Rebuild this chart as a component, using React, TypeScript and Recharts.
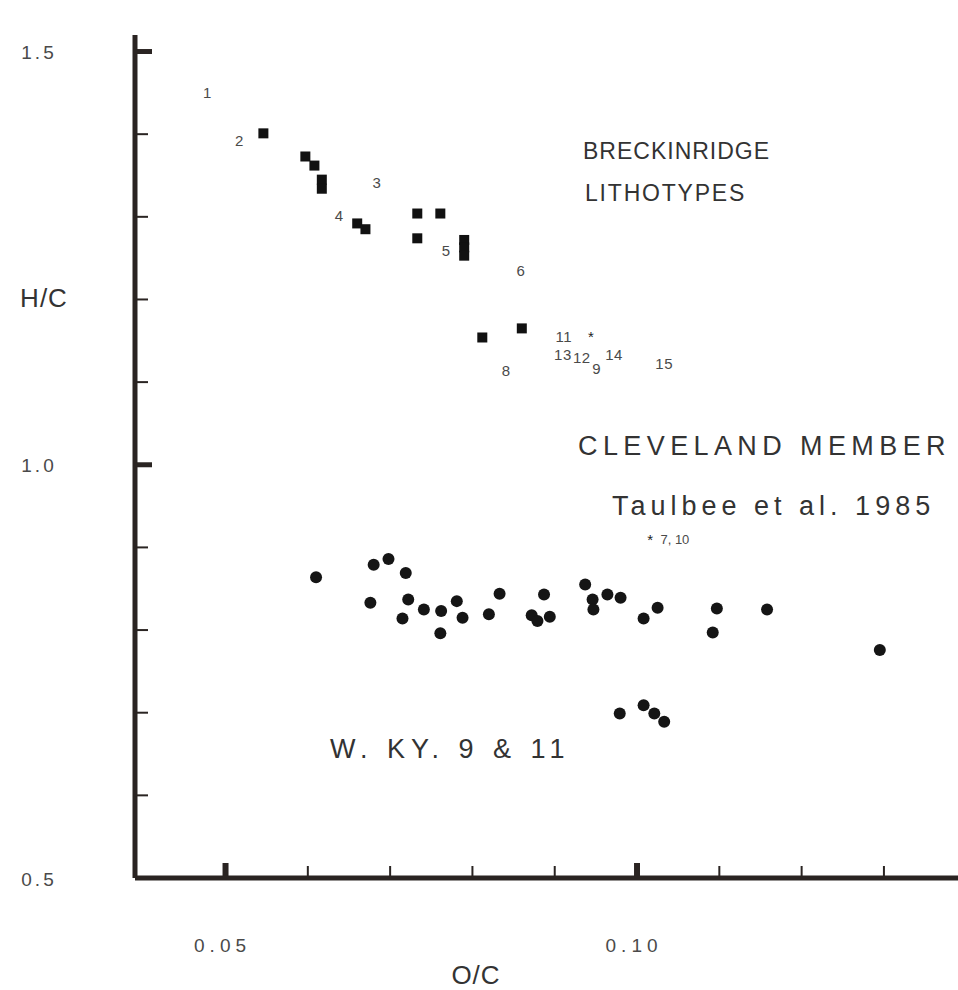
import React from "react";
import { ScatterChart, Scatter, XAxis, YAxis } from "recharts";

const INK = "#2a2422";
const TEXT = "#333333";
const NUM = "#4a4a4a";
const FONT = "'Liberation Sans', Arial, Helvetica, sans-serif";

// Breckinridge lithotypes (squares)
const lithotypes = [
  { x: 0.0546, y: 1.401 },
  { x: 0.0597, y: 1.373 },
  { x: 0.0608, y: 1.362 },
  { x: 0.0617, y: 1.345 },
  { x: 0.0617, y: 1.334 },
  { x: 0.066, y: 1.292 },
  { x: 0.067, y: 1.285 },
  { x: 0.0733, y: 1.304 },
  { x: 0.0761, y: 1.304 },
  { x: 0.0733, y: 1.274 },
  { x: 0.079, y: 1.272 },
  { x: 0.079, y: 1.263 },
  { x: 0.079, y: 1.253 },
  { x: 0.0812, y: 1.154 },
  { x: 0.086, y: 1.165 },
];

// W. KY. 9 & 11 (circles)
const wky = [
  { x: 0.061, y: 0.864 },
  { x: 0.068, y: 0.879 },
  { x: 0.0698, y: 0.886 },
  { x: 0.0719, y: 0.869 },
  { x: 0.0676, y: 0.833 },
  { x: 0.0722, y: 0.837 },
  { x: 0.0715, y: 0.814 },
  { x: 0.0741, y: 0.825 },
  { x: 0.0762, y: 0.823 },
  { x: 0.0781, y: 0.835 },
  { x: 0.0788, y: 0.815 },
  { x: 0.0761, y: 0.796 },
  { x: 0.082, y: 0.819 },
  { x: 0.0833, y: 0.844 },
  { x: 0.0872, y: 0.818 },
  { x: 0.0879, y: 0.811 },
  { x: 0.0894, y: 0.816 },
  { x: 0.0887, y: 0.843 },
  { x: 0.0937, y: 0.855 },
  { x: 0.0946, y: 0.837 },
  { x: 0.0947, y: 0.825 },
  { x: 0.0964, y: 0.843 },
  { x: 0.098, y: 0.839 },
  { x: 0.1008, y: 0.814 },
  { x: 0.1025, y: 0.827 },
  { x: 0.1097, y: 0.826 },
  { x: 0.1092, y: 0.797 },
  { x: 0.1158, y: 0.825 },
  { x: 0.1295, y: 0.776 },
  { x: 0.0979, y: 0.699 },
  { x: 0.1008, y: 0.709 },
  { x: 0.1021, y: 0.699 },
  { x: 0.1033, y: 0.689 },
];

// Cleveland Member (stars)
const cleveland = [
  { x: 0.0944, y: 1.155 },
  { x: 0.1016, y: 0.909 },
];

// sample numbers
const sampleLabels = [
  { x: 0.0478, y: 1.45, label: "1" },
  { x: 0.0517, y: 1.392, label: "2" },
  { x: 0.0684, y: 1.341, label: "3" },
  { x: 0.0638, y: 1.301, label: "4" },
  { x: 0.0768, y: 1.259, label: "5" },
  { x: 0.0859, y: 1.235, label: "6" },
  { x: 0.0911, y: 1.155, label: "11" },
  { x: 0.091, y: 1.133, label: "13" },
  { x: 0.0933, y: 1.13, label: "12" },
  { x: 0.0951, y: 1.117, label: "9" },
  { x: 0.0972, y: 1.134, label: "14" },
  { x: 0.1033, y: 1.123, label: "15" },
  { x: 0.0841, y: 1.114, label: "8" },
  { x: 0.1046, y: 0.909, label: "7, 10" },
];

const xTicks = [0.05, 0.06, 0.07, 0.08, 0.09, 0.1, 0.11, 0.12, 0.13];
const yTicks = [0.5, 0.6, 0.7, 0.8, 0.9, 1.0, 1.1, 1.2, 1.3, 1.4, 1.5];
const xMajor = [0.05, 0.1];
const yMajor = [0.5, 1.0, 1.5];

const isIn = (list: number[], v: number) => list.some((m) => Math.abs(m - v) < 1e-6);

function YTick(props: any) {
  const { x, y, payload } = props;
  const v = payload.value as number;
  const major = isIn(yMajor, v);
  return (
    <g>
      {v > 0.5 && (
        <line x1={x} x2={x + (major ? 17 : 13)} y1={y} y2={y} stroke={INK} strokeWidth={major ? 5 : 2} />
      )}
      {major && (
        <text x={x - 96} y={y + 1} textAnchor="middle" dominantBaseline="central" fontSize={19} letterSpacing={3} fill={NUM} fontFamily={FONT}>
          {v.toFixed(1)}
        </text>
      )}
    </g>
  );
}

function XTick(props: any) {
  const { x, y, payload } = props;
  const v = payload.value as number;
  const major = isIn(xMajor, v);
  return (
    <g>
      <line x1={x} x2={x} y1={y} y2={y - (major ? 15 : 12)} stroke={INK} strokeWidth={major ? 6 : 2} />
      {major && (
        <text x={x - 3} y={y + 67} textAnchor="middle" dominantBaseline="central" fontSize={19} letterSpacing={5} fill={NUM} fontFamily={FONT}>
          {v.toFixed(2)}
        </text>
      )}
    </g>
  );
}

const Square = (p: any) => <rect x={p.cx - 5} y={p.cy - 5} width={10} height={10} fill="#111" />;
const Dot = (p: any) => <circle cx={p.cx} cy={p.cy} r={6} fill="#151515" />;
const Star = (p: any) => (
  <text x={p.cx} y={p.cy + 5} textAnchor="middle" fontSize={15} fill="#222" fontFamily={FONT}>
    *
  </text>
);
const NumLabel = (p: any) => (
  <text
    x={p.cx}
    y={p.cy}
    textAnchor="middle"
    dominantBaseline="central"
    fontSize={p.payload.label.length > 2 ? 13 : 15}
    letterSpacing={p.payload.label.length > 2 ? 0 : 0.5}
    fill={NUM}
    fontFamily={FONT}
  >
    {p.payload.label}
  </text>
);

export default function App() {
  return (
    <div style={{ position: "absolute", left: 0, top: 0, width: 958, height: 990, background: "#fff" }}>
      <ScatterChart width={958} height={990} margin={{ top: 35, right: 0, bottom: 0, left: 0 }}>
        <XAxis
          type="number"
          dataKey="x"
          domain={[0.039, 0.139]}
          ticks={xTicks}
          allowDataOverflow
          height={112}
          tickSize={0}
          tickMargin={0}
          tickLine={false}
          axisLine={{ stroke: INK, strokeWidth: 5 }}
          tick={<XTick />}
          interval={0}
        />
        <YAxis
          type="number"
          dataKey="y"
          domain={[0.5, 1.52]}
          ticks={yTicks}
          allowDataOverflow
          width={135}
          tickSize={0}
          tickMargin={0}
          tickLine={false}
          axisLine={{ stroke: INK, strokeWidth: 5 }}
          tick={<YTick />}
          interval={0}
        />
        <Scatter data={lithotypes} shape={Square} isAnimationActive={false} />
        <Scatter data={wky} shape={Dot} isAnimationActive={false} />
        <Scatter data={cleveland} shape={Star} isAnimationActive={false} />
        <Scatter data={sampleLabels} shape={NumLabel} isAnimationActive={false} />
      </ScatterChart>
      <svg width={958} height={990} style={{ position: "absolute", left: 0, top: 0, pointerEvents: "none" }}>
        <g fontFamily={FONT} fill={TEXT}>
          <text x={44} y={298} textAnchor="middle" dominantBaseline="central" fontSize={26} letterSpacing={1}>H/C</text>
          <text x={476} y={975} textAnchor="middle" dominantBaseline="central" fontSize={26} letterSpacing={1}>O/C</text>
          <text x={583} y={159} fontSize={23} letterSpacing={1}>BRECKINRIDGE</text>
          <text x={585} y={201} fontSize={23} letterSpacing={1.8}>LITHOTYPES</text>
          <text x={578} y={455} fontSize={27} letterSpacing={5.4}>CLEVELAND MEMBER</text>
          <text x={612} y={515} fontSize={27} letterSpacing={5}>Taulbee et al. 1985</text>
          <text x={330} y={758} fontSize={27} letterSpacing={6}>W. KY. 9 &amp; 11</text>
        </g>
      </svg>
    </div>
  );
}
